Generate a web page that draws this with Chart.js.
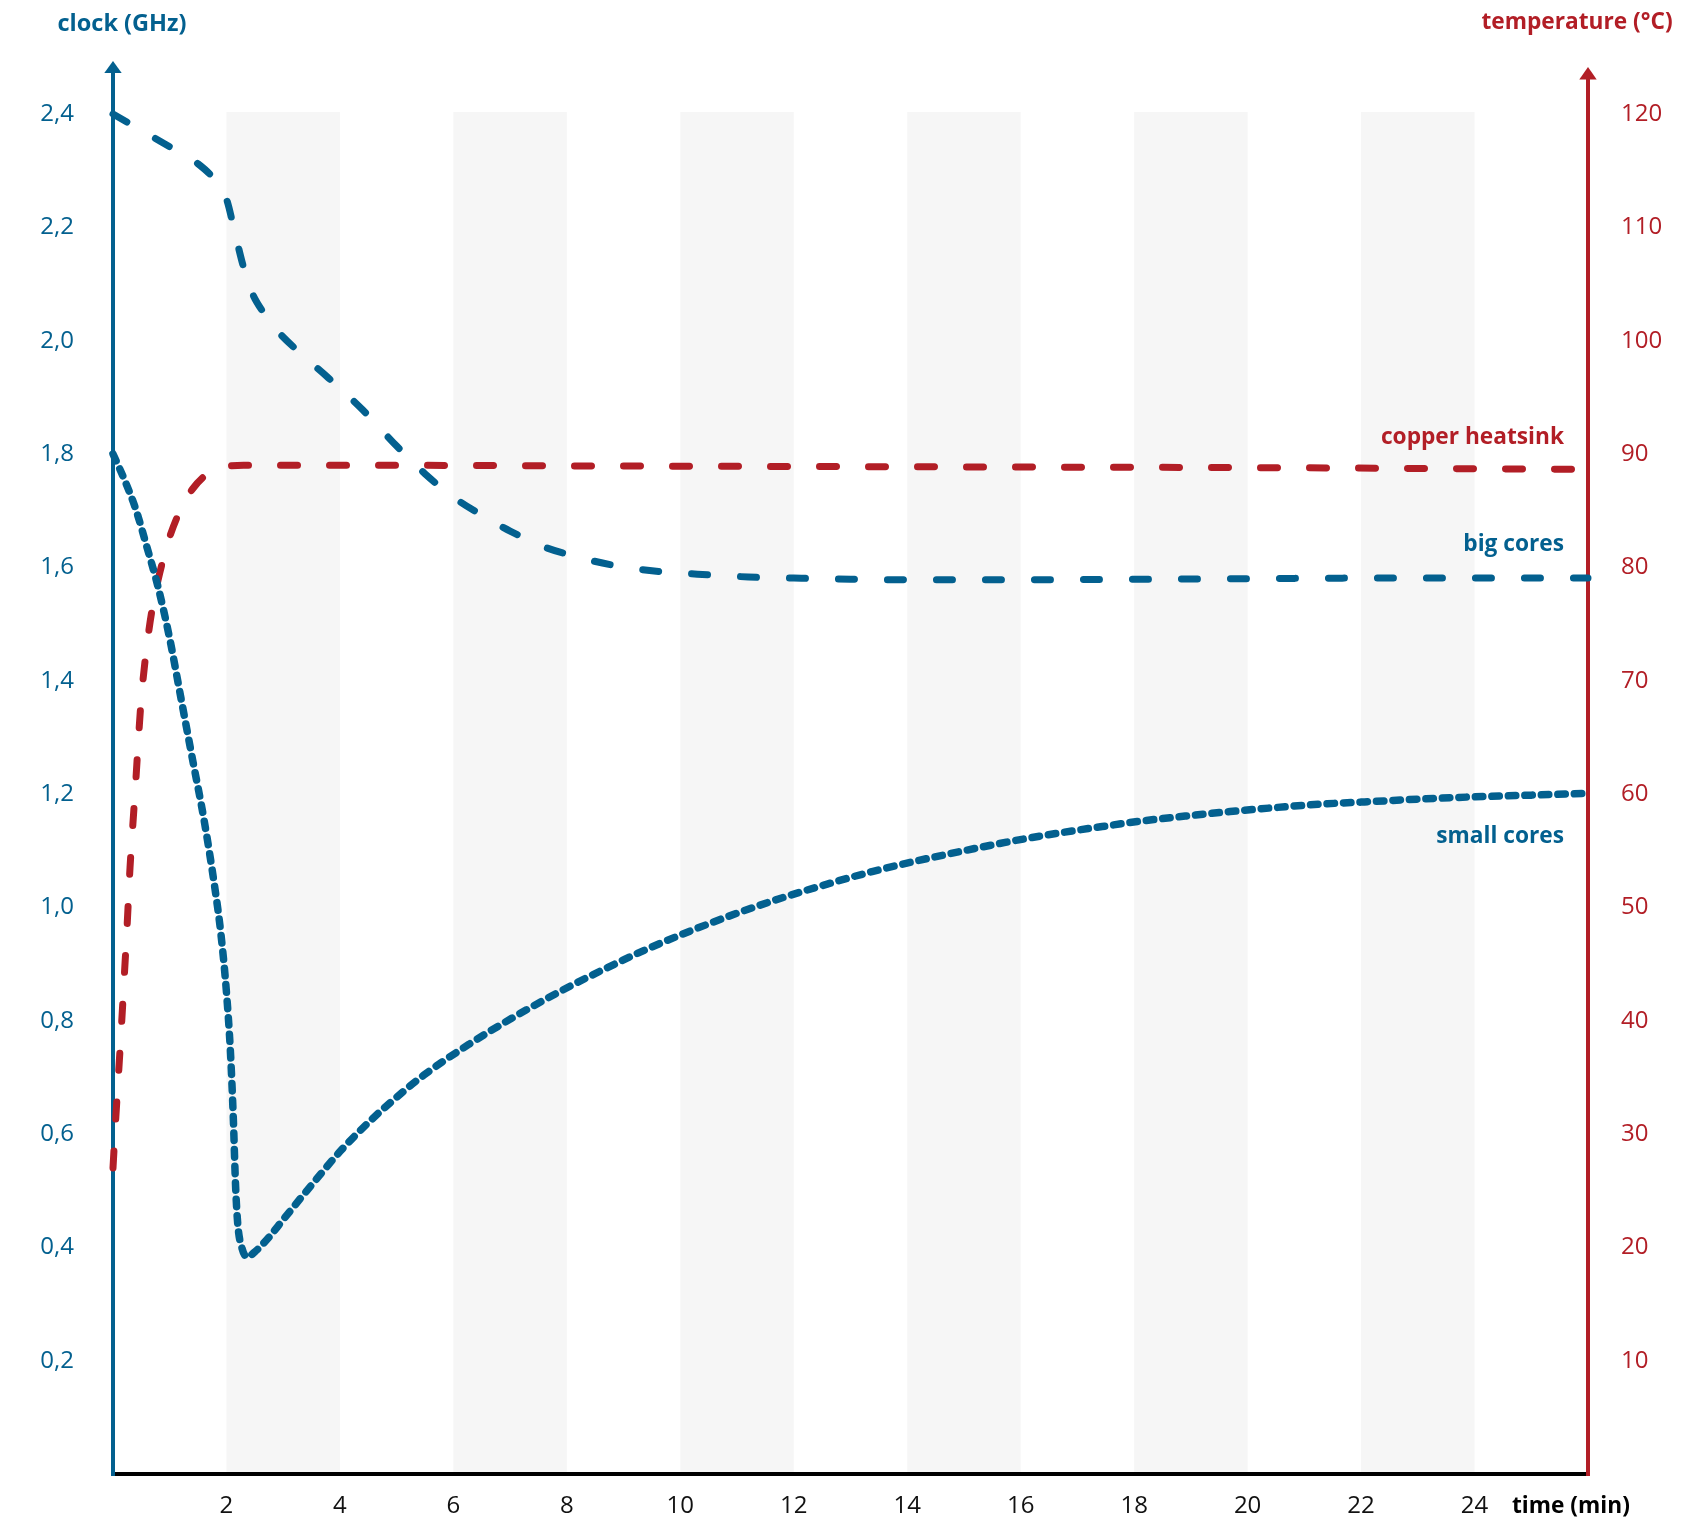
<!DOCTYPE html>
<html>
<head>
<meta charset="utf-8">
<script src="https://cdn.jsdelivr.net/npm/chart.js@4/dist/chart.umd.min.js"></script>
<style>
  html, body { margin: 0; padding: 0; background: #fff; }
  #wrap { width: 1706px; height: 1536px; position: relative; }
</style>
</head>
<body>
<div id="wrap"><canvas id="c" width="1706" height="1536"></canvas></div>
<script>
// ---------------- data ----------------
const timeTicks  = [2, 4, 6, 8, 10, 12, 14, 16, 18, 20, 22, 24];
const clockTicks = [0.2, 0.4, 0.6, 0.8, 1.0, 1.2, 1.4, 1.6, 1.8, 2.0, 2.2, 2.4];
const tempTicks  = [10, 20, 30, 40, 50, 60, 70, 80, 90, 100, 110, 120];

const bigTime  = [0, 0.5, 1.0, 1.5, 1.8, 2.0, 2.15, 2.3, 2.45, 2.65, 2.9, 3.3, 3.8, 4.4, 5.0, 5.5, 6.0, 6.5, 7.0, 7.6, 8.2, 8.8, 9.5, 10.3, 11.2, 12.0, 13.0, 14.0, 16.0, 18.0, 20.0, 22.0, 24.0, 26.0];
const bigClock = [2.400, 2.371, 2.342, 2.312, 2.283, 2.250, 2.190, 2.130, 2.085, 2.050, 2.017, 1.978, 1.934, 1.878, 1.814, 1.765, 1.724, 1.692, 1.664, 1.636, 1.618, 1.604, 1.594, 1.588, 1.583, 1.581, 1.579, 1.578, 1.578, 1.579, 1.580, 1.581, 1.581, 1.581];

const smallTime  = [0, 0.2, 0.4, 0.6, 0.8, 1.0, 1.2, 1.4, 1.6, 1.8, 1.9, 2.0, 2.07, 2.12, 2.16, 2.2, 2.27, 2.36, 2.5, 2.75, 3.0, 3.5, 4.0, 4.5, 5.0, 5.48, 6.27, 7.06, 7.85, 8.64, 9.43, 10.22, 11.01, 11.8, 12.59, 13.38, 14.17, 14.96, 15.75, 16.54, 17.33, 18.11, 18.9, 19.69, 20.48, 21.27, 22.06, 23.0, 24.0, 25.0, 26.0];
const smallClock = [1.800, 1.755, 1.703, 1.635, 1.563, 1.474, 1.368, 1.262, 1.157, 1.031, 0.955, 0.850, 0.745, 0.630, 0.510, 0.440, 0.400, 0.383, 0.392, 0.418, 0.449, 0.510, 0.569, 0.620, 0.665, 0.704, 0.758, 0.806, 0.850, 0.890, 0.927, 0.960, 0.990, 1.017, 1.041, 1.063, 1.082, 1.099, 1.115, 1.129, 1.141, 1.152, 1.161, 1.169, 1.176, 1.182, 1.186, 1.191, 1.195, 1.198, 1.201];

const heatTime = [0, 0.05, 0.1, 0.15, 0.2, 0.25, 0.3, 0.35, 0.4, 0.45, 0.5, 0.6, 0.7, 0.8, 0.9, 1.0, 1.2, 1.4, 1.6, 1.8, 2.0, 2.3, 3.0, 5.0, 8.0, 12.0, 16.0, 20.0, 24.0, 26.0];
const heatTemp = [27.0, 31.5, 35.5, 39.6, 44.0, 48.5, 53.5, 57.3, 61.0, 65.0, 68.5, 73.2, 76.6, 79.0, 81.0, 82.7, 85.2, 86.9, 88.0, 88.6, 88.9, 89.0, 89.0, 89.0, 88.95, 88.9, 88.85, 88.8, 88.7, 88.65];

const seriesNames = { big: 'big cores', small: 'small cores', heat: 'copper heatsink' };
const axisTitles = { clock: 'clock (GHz)', temp: 'temperature (°C)', time: 'time (min)' };

// ---------------- style ----------------
const BLUE = '#03608f';
const RED = '#b21e26';
const FONT = '"Open Sans", "Noto Sans", "DejaVu Sans", sans-serif';

function pts(xs, ys) { return xs.map((x, i) => ({ x: x, y: ys[i] })); }

const bandPlugin = {
  id: 'bands',
  beforeDatasetsDraw(chart) {
    const { ctx, chartArea, scales } = chart;
    const x = scales.x, y = scales.y;
    ctx.save();
    ctx.fillStyle = '#f6f6f6';
    const top = y.getPixelForValue(2.4) - 2;
    for (let t = 2; t < x.max; t += 4) {
      const x0 = x.getPixelForValue(t), x1 = x.getPixelForValue(Math.min(t + 2, x.max));
      ctx.fillRect(x0, top, x1 - x0, chartArea.bottom - top);
    }
    const L = chartArea.left, R = chartArea.right, B = chartArea.bottom;
    ctx.lineWidth = 4;
    ctx.lineCap = 'butt';
    ctx.strokeStyle = '#000';
    ctx.beginPath(); ctx.moveTo(L - 2, B); ctx.lineTo(R + 2, B); ctx.stroke();
    ctx.strokeStyle = BLUE; ctx.fillStyle = BLUE;
    ctx.beginPath(); ctx.moveTo(L, B + 2); ctx.lineTo(L, 70); ctx.stroke();
    ctx.beginPath(); ctx.moveTo(L, 61); ctx.lineTo(L - 8.7, 73); ctx.lineTo(L + 8.7, 73); ctx.closePath(); ctx.fill();
    ctx.strokeStyle = RED; ctx.fillStyle = RED;
    ctx.beginPath(); ctx.moveTo(R, B + 2); ctx.lineTo(R, 76); ctx.stroke();
    ctx.beginPath(); ctx.moveTo(R, 67); ctx.lineTo(R - 8.7, 79.5); ctx.lineTo(R + 8.7, 79.5); ctx.closePath(); ctx.fill();
    ctx.restore();
  },
  afterDraw(chart) {
    const { ctx, chartArea, scales } = chart;
    ctx.save();
    ctx.textBaseline = 'middle';
    ctx.font = 'bold 23.5px ' + FONT;
    ctx.fillStyle = BLUE; ctx.textAlign = 'center';
    ctx.fillText(axisTitles.clock, 122, 24);
    ctx.font = 'bold 22.7px ' + FONT;
    ctx.fillStyle = RED;
    ctx.fillText(axisTitles.temp, 1577, 23);
    ctx.fillStyle = '#000'; ctx.textAlign = 'left';
    ctx.fillText(axisTitles.time, 1512, chartArea.bottom + 33);
    const xr = chartArea.right - 24;
    ctx.textAlign = 'right';
    ctx.fillStyle = RED;
    ctx.fillText(seriesNames.heat, xr, scales.y2.getPixelForValue(heatTemp[heatTemp.length - 1]) - 32);
    ctx.fillStyle = BLUE;
    ctx.fillText(seriesNames.big, xr, scales.y.getPixelForValue(bigClock[bigClock.length - 1]) - 34);
    ctx.fillText(seriesNames.small, xr, scales.y.getPixelForValue(smallClock[smallClock.length - 1]) + 43);
    ctx.restore();
  }
};

new Chart(document.getElementById('c'), {
  type: 'line',
  data: {
    datasets: [
      {
        label: seriesNames.small, data: pts(smallTime, smallClock), yAxisID: 'y',
        borderColor: BLUE, borderWidth: 7.5, borderDash: [7.5, 9], borderCapStyle: 'round', borderJoinStyle: 'round',
        pointRadius: 0, cubicInterpolationMode: 'monotone', clip: false, fill: false
      },
      {
        label: seriesNames.heat, data: pts(heatTime, heatTemp), yAxisID: 'y2',
        borderColor: RED, borderWidth: 7, borderDash: [17, 32], borderCapStyle: 'round', borderJoinStyle: 'round',
        pointRadius: 0, cubicInterpolationMode: 'monotone', clip: false, fill: false
      },
      {
        label: seriesNames.big, data: pts(bigTime, bigClock), yAxisID: 'y',
        borderColor: BLUE, borderWidth: 7, borderDash: [16, 33], borderCapStyle: 'round', borderJoinStyle: 'round',
        pointRadius: 0, cubicInterpolationMode: 'monotone', clip: false, fill: false
      }
    ]
  },
  options: {
    responsive: false,
    animation: false,
    devicePixelRatio: 1,
    layout: { padding: { top: 114, left: 0, right: 0, bottom: 0 } },
    plugins: { legend: { display: false }, tooltip: { enabled: false } },
    scales: {
      x: {
        type: 'linear', min: 0, max: 26,
        afterBuildTicks: s => { s.ticks = timeTicks.map(v => ({ value: v })); },
        afterFit: s => { s.height = 62; },
        grid: { display: false, drawTicks: false },
        border: { display: false },
        ticks: { autoSkip: false, maxRotation: 0, padding: 18, color: '#111', font: { family: FONT, size: 24 } }
      },
      y: {
        position: 'left', min: 0, max: 2.4,
        afterBuildTicks: s => { s.ticks = clockTicks.map(v => ({ value: v })); },
        afterFit: s => { s.width = 113; },
        grid: { display: false, drawTicks: false },
        border: { display: false },
        ticks: { autoSkip: false, padding: 39, color: BLUE, font: { family: FONT, size: 24 },
                 callback: v => Number(v).toFixed(1).replace('.', ',') }
      },
      y2: {
        position: 'right', min: 0, max: 120,
        afterBuildTicks: s => { s.ticks = tempTicks.map(v => ({ value: v })); },
        afterFit: s => { s.width = 118; },
        grid: { display: false, drawTicks: false },
        border: { display: false },
        ticks: { autoSkip: false, padding: 33, color: RED, font: { family: FONT, size: 24 } }
      }
    }
  },
  plugins: [bandPlugin]
});
</script>
</body>
</html>
